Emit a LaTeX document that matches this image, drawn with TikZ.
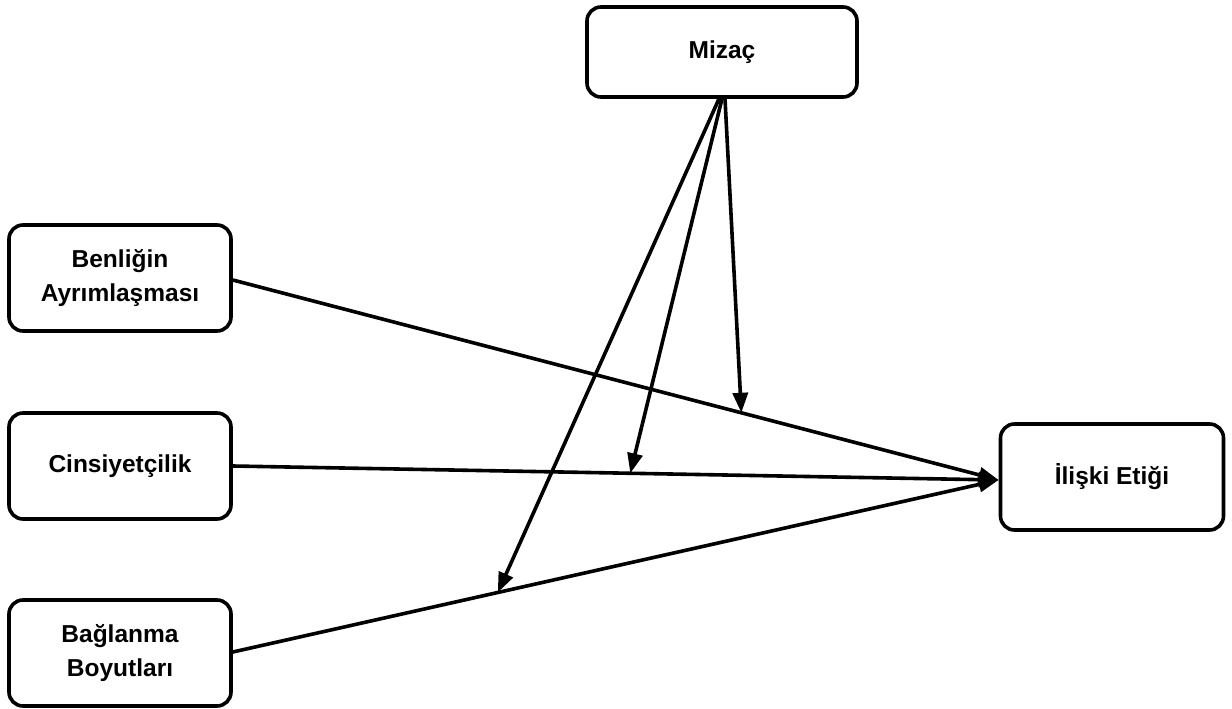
\documentclass[tikz,border=0pt]{standalone}
\usepackage{fontspec}
\setmainfont{Liberation Sans}
\usetikzlibrary{arrows.meta,calc}
\begin{document}
\begin{tikzpicture}[x=1pt,y=-1pt,
  box/.style={draw,line width=3.6pt,rounded corners=14pt,minimum width=222pt,minimum height=106pt,align=center,font=\fontsize{24.5}{34}\selectfont\bfseries,inner sep=0pt},
  conn/.style={line width=3.6pt,-{Triangle[length=20pt,width=15pt]}}]
\useasboundingbox (0,0) rectangle (1232,709);
\node[box,minimum width=270pt,minimum height=90pt] (miz) at (722,52) {Mizaç};
\node[box] (ben) at (120,278) {Benliğin\\Ayrımlaşması};
\node[box] (cin) at (120,466) {Cinsiyetçilik};
\node[box] (bag) at (120,653) {Bağlanma\\Boyutları};
\node[box,minimum width=223pt] (ili) at (1112,477) {İlişki Etiği};
\coordinate (ia) at ($(ili.west)+(0,3)$);
\coordinate (b1) at ($(ben.east)+(0,2)$);
\coordinate (b3) at ($(bag.east)+(0,-1)$);
\draw[conn] (b1) -- (ia);
\draw[conn] (cin.east) -- (ia);
\draw[conn] (b3) -- (ia);
\coordinate (t1) at ($(b1)!0.664!(ia)$);
\coordinate (t2) at ($(cin.east)!0.519!(ia)$);
\coordinate (t3) at ($(b3)!0.346!(ia)$);
\draw[conn] ($(miz.south)+(3,0)$) -- (t1);
\draw[conn] ($(miz.south)+(0,0)$) -- (t2);
\draw[conn] ($(miz.south)+(-3,0)$) -- (t3);
\end{tikzpicture}
\end{document}
